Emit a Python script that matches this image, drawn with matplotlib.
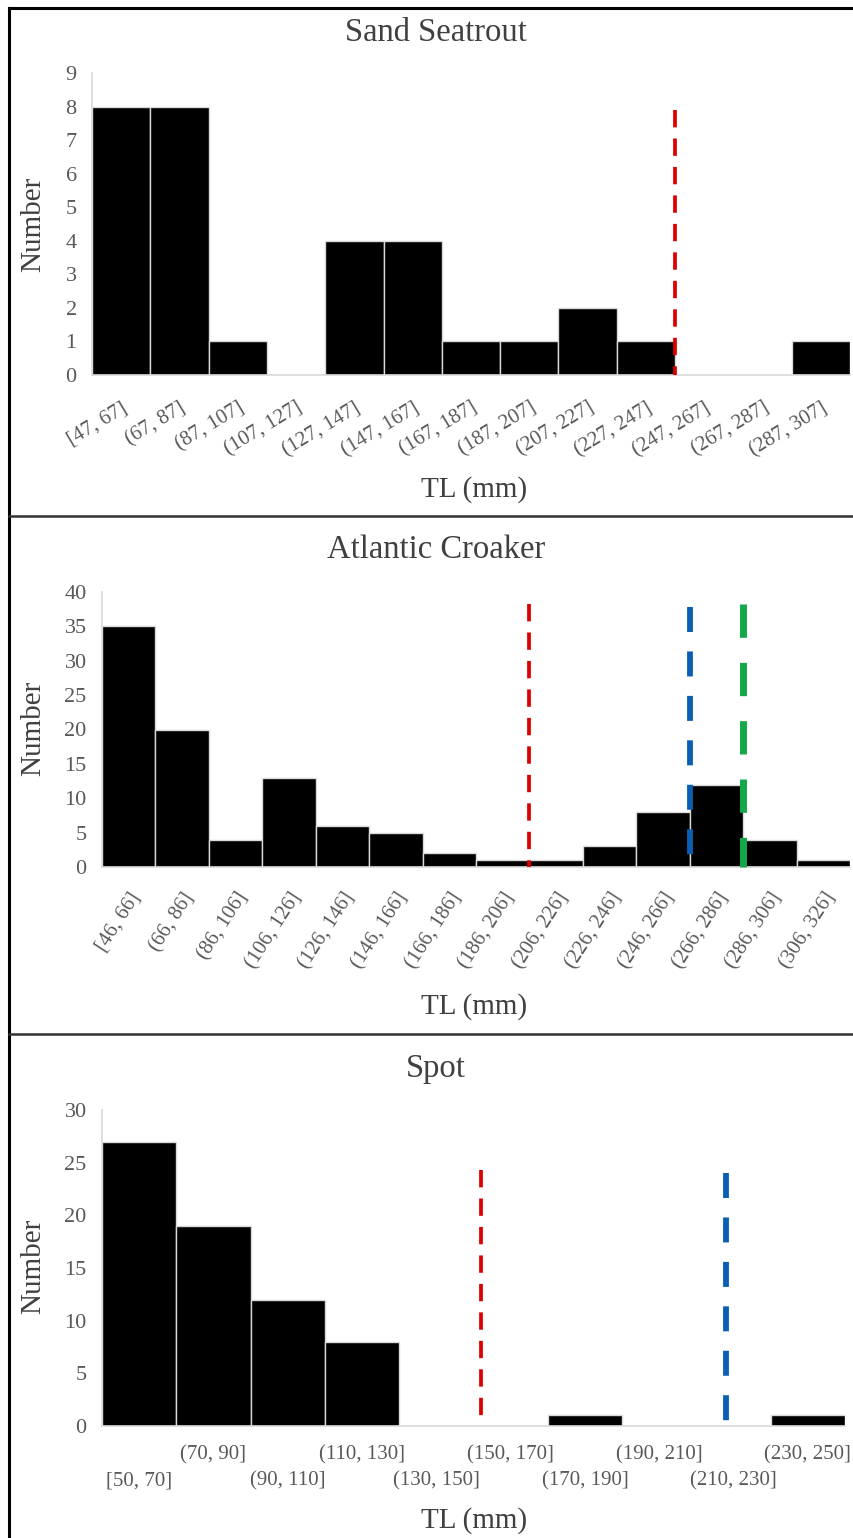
import matplotlib
matplotlib.use("Agg")
import matplotlib.pyplot as plt
from matplotlib.lines import Line2D
from matplotlib.transforms import ScaledTranslation

plt.rcParams["font.family"] = ["Liberation Serif", "DejaVu Serif"]
plt.rcParams["lines.scale_dashes"] = False

# length-frequency bins (TL, mm) and counts
seatrout_bins = ["[47, 67]", "(67, 87]", "(87, 107]", "(107, 127]", "(127, 147]",
                 "(147, 167]", "(167, 187]", "(187, 207]", "(207, 227]", "(227, 247]",
                 "(247, 267]", "(267, 287]", "(287, 307]"]
seatrout_counts = [8, 8, 1, 0, 4, 4, 1, 1, 2, 1, 0, 0, 1]
seatrout_marks = [247]          # mm
seatrout_mark_tops = [7.9]

croaker_bins = ["[46, 66]", "(66, 86]", "(86, 106]", "(106, 126]", "(126, 146]",
                "(146, 166]", "(166, 186]", "(186, 206]", "(206, 226]", "(226, 246]",
                "(246, 266]", "(266, 286]", "(286, 306]", "(306, 326]"]
croaker_counts = [35, 20, 4, 13, 6, 5, 2, 1, 1, 3, 8, 12, 4, 1]
croaker_marks = [206, 266, 286]
croaker_mark_tops = [38.3, 37.8, 38.3]

spot_bins = ["[50, 70]", "(70, 90]", "(90, 110]", "(110, 130]", "(130, 150]",
             "(150, 170]", "(170, 190]", "(190, 210]", "(210, 230]", "(230, 250]"]
spot_counts = [27, 19, 12, 8, 0, 0, 1, 0, 0, 1]
spot_marks = [152, 218]
spot_mark_tops = [24.3, 24.0]

W, H = 854, 1538
TXT = "#404040"
TICK = "#595959"
AXLINE = "#d9d9d9"

styles = {
    "red": dict(color="#dc0000", lw=2.7, dashes=(12.5, 8)),
    "blue": dict(color="#0a5fb4", lw=4.2, dashes=(18, 14)),
    "green": dict(color="#14a84a", lw=5.0, dashes=(24, 18)),
}

fig = plt.figure(figsize=(W / 100, H / 100), dpi=100)


def px_axes(x0, x1, y0, y1):
    # axes from pixel box (y0 = baseline row, y1 = top row)
    return fig.add_axes([x0 / W, 1 - y0 / H, (x1 - x0) / W, (y0 - y1) / H])


def histogram(ax, bins, counts, ymax, step, first_mm, marks, tops, colors):
    pos = list(range(len(bins)))
    ax.bar(pos, counts, width=1.0, color="black", edgecolor=AXLINE, linewidth=1.0, zorder=2)
    ax.set_xlim(-0.5, len(bins) - 0.5)
    ax.set_ylim(0, ymax)
    ax.set_yticks(range(0, ymax + 1, step))
    ax.tick_params(axis="y", length=0, pad=11, labelsize=16, labelcolor=TICK)
    ax.tick_params(axis="x", length=0, labelcolor=TICK)
    for s in ["top", "right"]:
        ax.spines[s].set_visible(False)
    for s in ["left", "bottom"]:
        ax.spines[s].set_color(AXLINE)
        ax.spines[s].set_linewidth(1.2)
    # dashed reference lengths, drawn top-down so a dash starts at the top
    for mm, top, c in zip(marks, tops, colors):
        x = (mm - first_mm) / 20.0
        ax.add_line(Line2D([x, x], [top, 0], clip_on=False, zorder=3, **styles[c]))
    ax.set_xticks(pos)


# Sand Seatrout
ax1 = px_axes(92, 850, 375, 73)
histogram(ax1, seatrout_bins, seatrout_counts, 9, 1, 57, seatrout_marks, seatrout_mark_tops, ["red"])
ax1.set_xticklabels(seatrout_bins, rotation=31, ha="right", va="top",
                    rotation_mode="anchor", fontsize=15)
ax1.tick_params(axis="x", pad=17)

# Atlantic Croaker
ax2 = px_axes(102, 850, 867, 592)
histogram(ax2, croaker_bins, croaker_counts, 40, 5, 56, croaker_marks, croaker_mark_tops,
          ["red", "blue", "green"])
ax2.set_xticklabels(croaker_bins, rotation=57, ha="right", va="top",
                    rotation_mode="anchor", fontsize=15)
ax2.tick_params(axis="x", pad=16)

# Spot: labels alternate between two rows
ax3 = px_axes(102, 845, 1426, 1110)
histogram(ax3, spot_bins, spot_counts, 30, 5, 60, spot_marks, spot_mark_tops, ["red", "blue"])
ax3.set_xticklabels(spot_bins, fontsize=15, va="top")
ax3.tick_params(axis="x", pad=14)
drop = ScaledTranslation(0, -0.26, fig.dpi_scale_trans)
for i, lbl in enumerate(ax3.get_xticklabels()):
    if i % 2 == 0:
        lbl.set_transform(lbl.get_transform() + drop)

# titles and axis labels
def ftext(x, y, s, **kw):
    fig.text(x / W, 1 - y / H, s, ha="center", va="center", color=TXT, **kw)

for y, s in [(33, "Sand Seatrout"), (550, "Atlantic Croaker"), (1069, "Spot")]:
    ftext(436, y, s, fontsize=23.5)
for y in [490, 1007, 1521]:
    ftext(474, y, "TL (mm)", fontsize=21)
for y in [224, 728, 1266]:
    ftext(33, y, "Number", fontsize=21, rotation=90)

# panel frames
def fline(xs, ys, **kw):
    fig.add_artist(Line2D([x / W for x in xs], [1 - y / H for y in ys],
                          transform=fig.transFigure, **kw))

fline([9.5, 9.5], [8, H], color="black", lw=2.2)
fline([9.5, W], [8, 8], color="black", lw=2.2)
fline([9.5, W], [516, 516], color="#333333", lw=1.8)
fline([9.5, W], [1034, 1034], color="#333333", lw=1.8)

fig.savefig("out.png", dpi=100)
